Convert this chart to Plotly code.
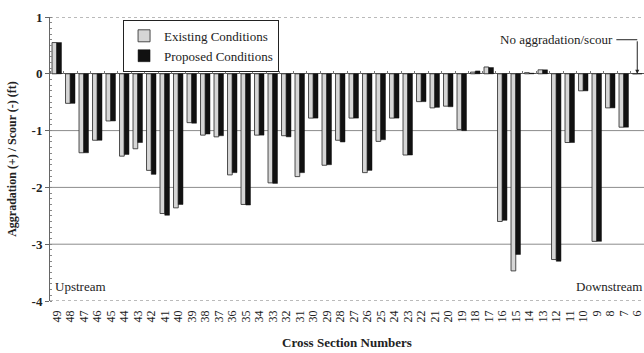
import plotly.graph_objects as go

# Cross sections, listed upstream (49) to downstream (6)
sections = [str(n) for n in range(49, 5, -1)]

# Aggradation (+) / scour (-) in feet
existing = [0.55, -0.52, -1.39, -1.17, -0.83, -1.45, -1.32, -1.70, -2.46, -2.36,
            -0.86, -1.08, -1.11, -1.78, -2.30, -1.08, -1.92, -1.09, -1.81, -0.78,
            -1.61, -1.17, -0.78, -1.74, -1.19, -0.78, -1.43, -0.49, -0.60, -0.57,
            -0.98, 0.03, 0.12, -2.60, -3.47, 0.02, 0.07, -3.27, -1.21, -0.30,
            -2.95, -0.60, -0.94, 0.0]
proposed = [0.55, -0.52, -1.39, -1.17, -0.83, -1.42, -1.21, -1.77, -2.49, -2.30,
            -0.87, -1.06, -1.09, -1.74, -2.31, -1.08, -1.93, -1.11, -1.74, -0.78,
            -1.60, -1.20, -0.78, -1.70, -1.16, -0.78, -1.43, -0.49, -0.59, -0.58,
            -1.00, 0.05, 0.11, -2.58, -3.18, 0.01, 0.07, -3.30, -1.21, -0.30,
            -2.95, -0.60, -0.94, 0.0]

y_ticks = [1, 0, -1, -2, -3, -4]
grid_levels = [-1, -2, -3]
frame_levels = [1, -4]

SERIF = "Liberation Serif, Times New Roman, serif"

fig = go.Figure()
fig.add_trace(go.Bar(
    x=sections, y=existing, name="Existing Conditions",
    marker=dict(color="#d6d6d6", line=dict(color="#3a3a3a", width=0.9)),
))
fig.add_trace(go.Bar(
    x=sections, y=proposed, name="Proposed Conditions",
    marker=dict(color="#111111", line=dict(color="#111111", width=0.5)),
))
# carrier for the tick marks drawn along the zero line
fig.add_trace(go.Scatter(
    x=sections, y=[0] * len(sections), xaxis="x2", mode="markers",
    marker=dict(opacity=0), showlegend=False, hoverinfo="skip",
))

shapes = []
for g in grid_levels:
    shapes.append(dict(type="line", xref="paper", x0=0, x1=1, yref="y", y0=g, y1=g,
                       line=dict(color="#8c8c8c", width=1), layer="below"))
for f in frame_levels:
    shapes.append(dict(type="line", xref="paper", x0=0, x1=1, yref="y", y0=f, y1=f,
                       line=dict(color="#777777", width=1, dash="dot"), layer="below"))
# leader from the label to the arrow
shapes.append(dict(type="line", xref="x", x0=41.45, x1=43, yref="y", y0=0.6, y1=0.6,
                   line=dict(color="#222222", width=1)))

annotations = [
    dict(text="Upstream", xref="paper", x=0.005, yref="y", y=-3.74,
         xanchor="left", yanchor="middle", showarrow=False,
         font=dict(family=SERIF, size=13, color="#222")),
    dict(text="Downstream", xref="paper", x=1.0, yref="y", y=-3.74,
         xanchor="right", yanchor="middle", showarrow=False,
         font=dict(family=SERIF, size=13, color="#222")),
    dict(text="No aggradation/scour", xref="x", x=41.35, yref="y", y=0.6,
         xanchor="right", yanchor="middle", showarrow=False,
         font=dict(family=SERIF, size=13, color="#222")),
    dict(text="", xref="x", x=43, yref="y", y=0, ax=0, ay=-34,
         showarrow=True, arrowhead=2, arrowsize=0.8, arrowwidth=1, arrowcolor="#222"),
]

fig.update_layout(
    width=644, height=353,
    margin=dict(l=50, r=0, t=17, b=52, autoexpand=False),
    paper_bgcolor="white", plot_bgcolor="white",
    barmode="group", bargap=0.3, bargroupgap=0.0,
    font=dict(family=SERIF, color="#222"),
    shapes=shapes, annotations=annotations,
    legend=dict(x=0.123, y=0.99, xanchor="left", yanchor="top",
                bgcolor="white", bordercolor="#222", borderwidth=1,
                font=dict(family=SERIF, size=13, color="#222"),
                tracegroupgap=0, itemwidth=30),
    xaxis=dict(type="category", categoryorder="array", categoryarray=sections,
               range=[-0.5, len(sections) - 0.5],
               tickmode="array", tickvals=sections, ticktext=sections,
               showgrid=False, zeroline=False, showline=False, ticks="",
               tickangle=-90, ticklabelstandoff=6,
               tickfont=dict(family=SERIF, size=12, color="#222"),
               title=dict(text="<b>Cross Section Numbers</b>", standoff=16,
                          font=dict(family=SERIF, size=13, color="#222"))),
    xaxis2=dict(type="category", categoryorder="array", categoryarray=sections,
                overlaying="x", anchor="free", position=0.8, side="top",
                matches="x", showgrid=False, zeroline=False, showline=False,
                tickmode="array", tickvals=sections,
                showticklabels=False, ticks="outside", tickson="boundaries",
                ticklen=3, tickcolor="#777"),
    yaxis=dict(range=[-4, 1], tickvals=y_ticks, ticktext=[str(v) for v in y_ticks],
               showgrid=False, zeroline=True, zerolinecolor="#555", zerolinewidth=1.2,
               showline=True, linecolor="#666", linewidth=1,
               ticks="outside", ticklen=4, tickcolor="#666",
               minor=dict(dtick=0.1, ticks="inside", ticklen=2, tickcolor="#888"),
               tickfont=dict(family=SERIF, size=13, color="#222", weight="bold"),
               title=dict(text="<b>Aggradation (+) / Scour (-) (ft)</b>", standoff=12,
                          font=dict(family=SERIF, size=12, color="#222"))),
)

fig.write_html("out.html")
